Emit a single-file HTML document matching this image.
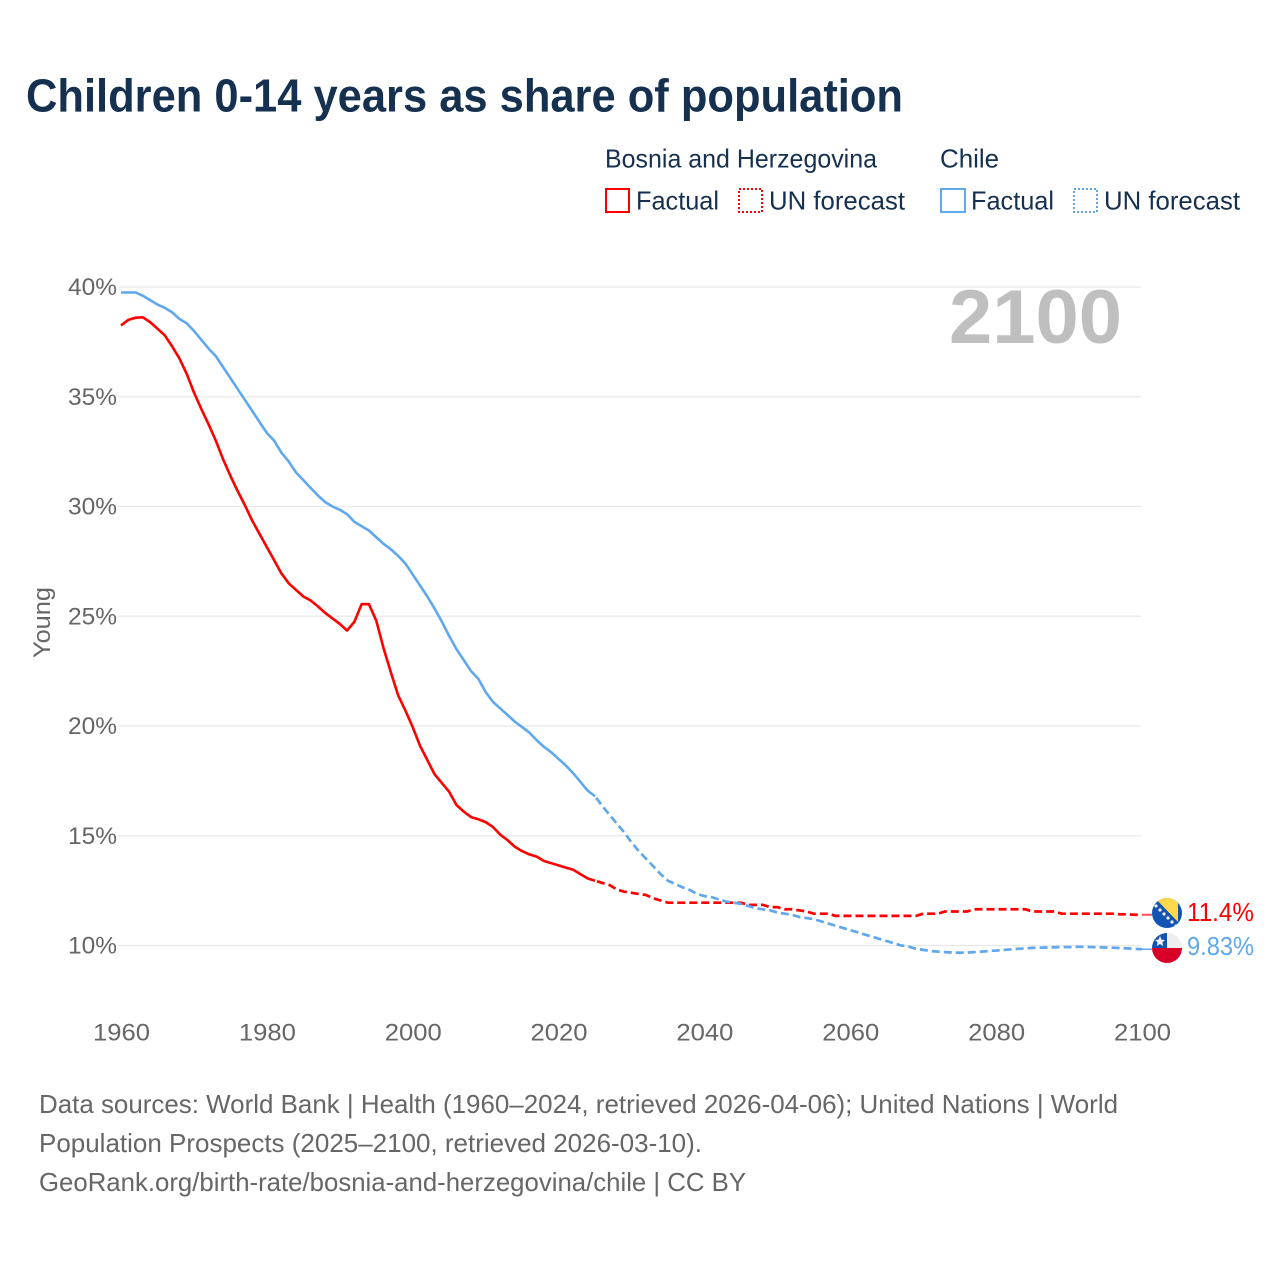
<!DOCTYPE html>
<html lang="en">
<head>
<meta charset="utf-8">
<title>Children 0-14 years as share of population</title>
<style>
html,body{margin:0;padding:0;background:#fff;}
svg{display:block;font-family:"Liberation Sans",sans-serif;}
</style>
</head>
<body>
<svg id="chart" xmlns="http://www.w3.org/2000/svg" width="1280" height="1280" viewBox="0 0 1280 1280">
  <rect width="1280" height="1280" fill="#fff"/>
  <text x="26" y="111.5" font-size="46" font-weight="700" fill="#16304f" textLength="877" lengthAdjust="spacingAndGlyphs">Children 0-14 years as share of population</text>

  <g font-size="26" fill="#16304f">
    <text x="605" y="167.5" textLength="272" lengthAdjust="spacingAndGlyphs">Bosnia and Herzegovina</text>
    <text x="940" y="167.5" textLength="59" lengthAdjust="spacingAndGlyphs">Chile</text>
    <rect x="606" y="189" width="23" height="23" fill="none" stroke="#ff0000" stroke-width="2"/>
    <text x="636" y="209.5" textLength="83" lengthAdjust="spacingAndGlyphs">Factual</text>
    <rect x="739" y="189" width="23" height="23" fill="none" stroke="#ff0000" stroke-width="2" stroke-dasharray="2 2"/>
    <text x="769" y="209.5" textLength="136" lengthAdjust="spacingAndGlyphs">UN forecast</text>
    <rect x="941" y="189" width="24" height="23" fill="none" stroke="#5fa8ee" stroke-width="2"/>
    <text x="971" y="209.5" textLength="83" lengthAdjust="spacingAndGlyphs">Factual</text>
    <rect x="1074" y="189" width="23" height="23" fill="none" stroke="#5fa8ee" stroke-width="2" stroke-dasharray="2 2"/>
    <text x="1104" y="209.5" textLength="136" lengthAdjust="spacingAndGlyphs">UN forecast</text>
  </g>

  <g id="grid"></g>
  <g id="yticks" font-size="24" fill="#666"></g>
  <g id="xticks" font-size="24" fill="#666"></g>
  <text transform="translate(50,658) rotate(-90)" font-size="24" fill="#666" textLength="71" lengthAdjust="spacingAndGlyphs">Young</text>

  <text x="949" y="343" font-size="76" font-weight="700" fill="#bfbfbf" textLength="173" lengthAdjust="spacingAndGlyphs">2100</text>

  <g id="series"></g>

  <defs>
    <clipPath id="flag-clip-ba"><circle cx="1167" cy="913" r="15"/></clipPath>
    <clipPath id="flag-clip-cl"><circle cx="1167" cy="948" r="15"/></clipPath>
  </defs>
  <g clip-path="url(#flag-clip-ba)">
    <rect x="1152" y="898" width="30" height="30" fill="#1254b4"/>
    <polygon points="1155,898 1178,898 1178,922" fill="#ffd94a"/>
    <g fill="#f2f2f2">
      <circle cx="1156" cy="906" r="1.6"/><circle cx="1160" cy="910" r="1.6"/><circle cx="1164" cy="914" r="1.6"/>
      <circle cx="1168" cy="918" r="1.6"/><circle cx="1172" cy="922" r="1.6"/><circle cx="1176" cy="926" r="1.6"/>
    </g>
  </g>
  <g clip-path="url(#flag-clip-cl)">
    <rect x="1152" y="933" width="30" height="15" fill="#eeeeee"/>
    <rect x="1152" y="933" width="15" height="15" fill="#1254b4"/>
    <rect x="1152" y="948" width="30" height="15" fill="#d80027"/>
    <polygon points="1160,936 1161.5,939.6 1165,940 1162.4,942.3 1163.2,946 1160,944 1156.8,946 1157.6,942.3 1155,940 1158.5,939.6" fill="#f2f2f2"/>
  </g>
  <text id="label-bosnia" x="1187" y="921" font-size="26" fill="#ff0000" textLength="67" lengthAdjust="spacingAndGlyphs"></text>
  <text id="label-chile" x="1187" y="955" font-size="26" fill="#5fa8ee" textLength="67" lengthAdjust="spacingAndGlyphs"></text>

  <g font-size="26" fill="#666">
    <text x="39" y="1113" textLength="1079" lengthAdjust="spacingAndGlyphs">Data sources: World Bank | Health (1960–2024, retrieved 2026-04-06); United Nations | World</text>
    <text x="39" y="1152" textLength="663" lengthAdjust="spacingAndGlyphs">Population Prospects (2025–2100, retrieved 2026-03-10).</text>
    <text x="39" y="1191" textLength="707" lengthAdjust="spacingAndGlyphs">GeoRank.org/birth-rate/bosnia-and-herzegovina/chile | CC BY</text>
  </g>
</svg>
<script>
const yTickValues = [10, 15, 20, 25, 30, 35, 40];
const xTickValues = [1960, 1980, 2000, 2020, 2040, 2060, 2080, 2100];
const factualStartYear = 1960;
const forecastStartYear = 2025;
const bosniaEndLabel = "11.4%";
const chileEndLabel = "9.83%";

const bosniaFactual = [
  38.25,38.5,38.6,38.62,38.4,38.1,37.8,37.3,36.75,36.05,
  35.2,34.45,33.75,33.0,32.15,31.4,30.7,30.05,29.35,28.75,
  28.15,27.55,26.95,26.5,26.2,25.9,25.72,25.45,25.15,24.9,
  24.65,24.35,24.75,25.55,25.55,24.8,23.55,22.45,21.4,20.7,
  19.95,19.1,18.45,17.8,17.4,17.0,16.4,16.1,15.85,15.75,
  15.62,15.4,15.05,14.8,14.5,14.3,14.15,14.05,13.85,13.75,
  13.65,13.55,13.45,13.25,13.05,12.95
];
const bosniaForecast = [
  12.95,12.85,12.75,12.55,12.45,12.4,12.35,12.3,12.15,12.05,
  11.95,11.95,11.95,11.95,11.95,11.95,11.95,11.95,11.95,11.95,
  11.95,11.85,11.85,11.85,11.75,11.75,11.65,11.65,11.6,11.55,
  11.45,11.45,11.45,11.35,11.35,11.35,11.35,11.35,11.35,11.35,
  11.35,11.35,11.35,11.35,11.35,11.45,11.45,11.45,11.55,11.55,
  11.55,11.55,11.65,11.65,11.65,11.65,11.65,11.65,11.65,11.65,
  11.55,11.55,11.55,11.55,11.45,11.45,11.45,11.45,11.45,11.45,
  11.45,11.45,11.42,11.42,11.4,11.4
];
const chileFactual = [
  39.75,39.75,39.75,39.6,39.4,39.2,39.05,38.85,38.55,38.35,
  38.0,37.6,37.2,36.85,36.35,35.85,35.35,34.85,34.35,33.85,
  33.35,33.0,32.45,32.05,31.55,31.2,30.85,30.5,30.2,30.0,
  29.85,29.65,29.3,29.1,28.9,28.6,28.3,28.05,27.75,27.4,
  26.9,26.4,25.9,25.35,24.75,24.1,23.5,23.0,22.5,22.15,
  21.55,21.1,20.8,20.5,20.2,19.95,19.7,19.35,19.05,18.8,
  18.5,18.2,17.85,17.45,17.05,16.8
];
const chileForecast = [
  16.8,16.35,15.95,15.55,15.15,14.7,14.3,13.95,13.6,13.25,
  12.95,12.8,12.65,12.53,12.35,12.25,12.2,12.1,12.0,11.95,
  11.9,11.8,11.7,11.65,11.6,11.5,11.45,11.4,11.3,11.25,
  11.2,11.1,11.0,10.9,10.8,10.7,10.6,10.5,10.4,10.3,
  10.2,10.1,10.0,9.95,9.85,9.8,9.75,9.72,9.7,9.68,
  9.67,9.68,9.7,9.72,9.75,9.77,9.8,9.82,9.85,9.87,
  9.89,9.9,9.91,9.92,9.93,9.93,9.94,9.94,9.93,9.92,
  9.91,9.9,9.88,9.87,9.85,9.83
];

const SVG_NS = "http://www.w3.org/2000/svg";
function xScale(year) { return 121 + (year - 1960) * (1142 - 121) / 140; }
function yScale(value) { return 945.5 - (value - 10) * (945.5 - 287) / 30; }
function linePath(startYear, values) {
  return values.map(function (v, i) {
    return (i ? "L" : "M") + xScale(startYear + i).toFixed(2) + " " + yScale(v).toFixed(2);
  }).join(" ");
}
function make(tag, attrs, parent) {
  const el = document.createElementNS(SVG_NS, tag);
  Object.keys(attrs).forEach(function (k) { el.setAttribute(k, attrs[k]); });
  parent.appendChild(el);
  return el;
}

const grid = document.getElementById("grid");
const yticks = document.getElementById("yticks");
const xticks = document.getElementById("xticks");
const series = document.getElementById("series");

yTickValues.forEach(function (v) {
  const line = make("line", { x1: 118, x2: 1141, y1: yScale(v), y2: yScale(v), stroke: "#e8e8e8", "stroke-width": 1.2 }, grid);
  
  
  const label = make("text", { x: 117, y: yScale(v) + 8, "text-anchor": "end", textLength: 49, lengthAdjust: "spacingAndGlyphs" }, yticks);
  
  
  label.textContent = v + "%";
});
xTickValues.forEach(function (year) {
  const label = make("text", { x: xScale(year) + 0.5, y: 1040.5, "text-anchor": "middle", textLength: 57, lengthAdjust: "spacingAndGlyphs" }, xticks);
  
  
  label.textContent = year;
});

const bosniaForecastLine = make("path", { d: linePath(forecastStartYear, bosniaForecast), fill: "none", stroke: "#ff0000", "stroke-width": 2.7, "stroke-dasharray": "8 4", "stroke-dashoffset": 10 }, series);


const bosniaFactualLine = make("path", { d: linePath(factualStartYear, bosniaFactual), fill: "none", stroke: "#ff0000", "stroke-width": 2.6, "stroke-linejoin": "round" }, series);


const chileForecastLine = make("path", { d: linePath(forecastStartYear, chileForecast), fill: "none", stroke: "#5fa8ee", "stroke-width": 2.7, "stroke-dasharray": "8 4", "stroke-dashoffset": 10 }, series);


const chileFactualLine = make("path", { d: linePath(factualStartYear, chileFactual), fill: "none", stroke: "#5fa8ee", "stroke-width": 2.6, "stroke-linejoin": "round" }, series);



const bosniaConnector = make("line", { x1: xScale(2100), x2: 1152, y1: yScale(bosniaForecast[bosniaForecast.length - 1]), y2: yScale(bosniaForecast[bosniaForecast.length - 1]), stroke: "#ff5555", "stroke-width": 2 }, series);


const chileConnector = make("line", { x1: xScale(2100), x2: 1152, y1: yScale(chileForecast[chileForecast.length - 1]), y2: yScale(chileForecast[chileForecast.length - 1]), stroke: "#5fa8ee", "stroke-width": 1.5 }, series);



document.getElementById("label-bosnia").textContent = bosniaEndLabel;
document.getElementById("label-chile").textContent = chileEndLabel;
</script>
</body>
</html>
